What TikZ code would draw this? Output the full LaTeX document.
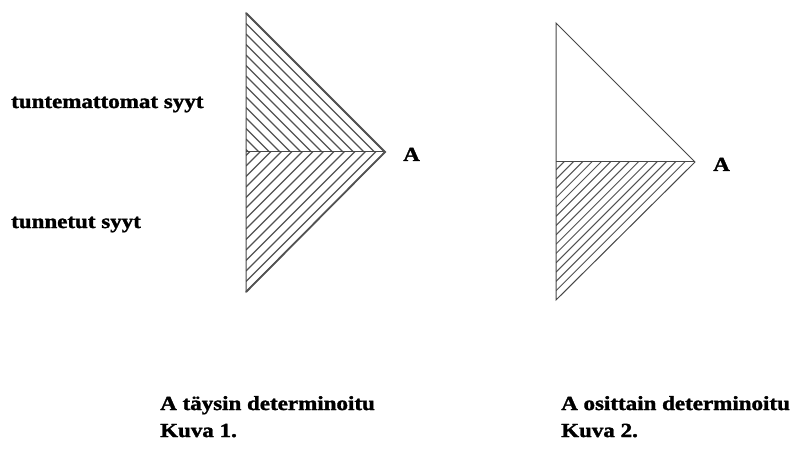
\documentclass[tikz,border=0pt]{standalone}
\usepackage{fontspec}
\setmainfont{Liberation Serif}[BoldFeatures={FakeBold=1.5}]
\begin{document}
\begin{tikzpicture}[x=1pt,y=-1pt,
  lbl/.style={font=\fontsize{20}{24}\selectfont\bfseries, inner sep=0pt, anchor=base west},
  outline/.style={draw=black!72, line width=1pt, line join=miter},
  hatch/.style={draw=black!68, line width=1.2pt}]
\useasboundingbox (0,0) rectangle (791,462);
\fill[white] (0,0) rectangle (791,462);

% ---- Triangle 1 ----
\coordinate (t1top) at (246,13);
\coordinate (t1apex) at (385,152);
\coordinate (t1bot) at (246,292);
\coordinate (t1mid) at (246,152);
\begin{scope}
  \clip (t1top) -- (t1apex) -- (t1mid) -- cycle;
  \foreach \k in {0,...,15} {
    \draw[hatch] (246,13+\k*10.5) -- (446,213+\k*10.5);
  }
\end{scope}
\begin{scope}
  \clip (t1mid) -- (t1apex) -- (t1bot) -- cycle;
  \foreach \k in {0,...,15} {
    \draw[hatch] (246,292-\k*10.5) -- (446,92-\k*10.5);
  }
\end{scope}
\draw[outline] (t1top) -- (t1apex) -- (t1bot) -- cycle;
\draw[outline] (t1mid) -- (t1apex);
\draw[hatch, line width=1.8pt] (t1top) -- (t1apex) -- (t1bot);

% ---- Triangle 2 ----
\coordinate (t2top) at (556,23);
\coordinate (t2apex) at (695,162);
\coordinate (t2bot) at (556,300);
\coordinate (t2mid) at (556,162);
\begin{scope}
  \clip (t2mid) -- (t2apex) -- (t2bot) -- cycle;
  \foreach \k in {1,...,16} {
    \draw[hatch, line width=1pt] (556,300-\k*9.3) -- (756,100-\k*9.3);
  }
\end{scope}
\draw[outline] (t2top) -- (t2apex) -- (t2bot) -- cycle;
\draw[outline] (t2mid) -- (t2apex);

% ---- Labels ----
\node[lbl] (unk) at (11,108) {\scalebox{1.15}[1]{tuntemattomat syyt}};
\node[lbl] (kno) at (11,228) {\scalebox{1.15}[1]{tunnetut syyt}};
\node[lbl] (a1) at (403,161) {\scalebox{1.15}[1]{A}};
\node[lbl] (a2) at (713,171) {\scalebox{1.15}[1]{A}};
\node[lbl] (cap1) at (160,410) {\scalebox{1.15}[1]{A täysin determinoitu}};
\node[lbl] (fig1) at (160,437) {\scalebox{1.15}[1]{Kuva 1.}};
\node[lbl] (cap2) at (561,410) {\scalebox{1.15}[1]{A osittain determinoitu}};
\node[lbl] (fig2) at (561,437) {\scalebox{1.15}[1]{Kuva 2.}};
\end{tikzpicture}
\end{document}
